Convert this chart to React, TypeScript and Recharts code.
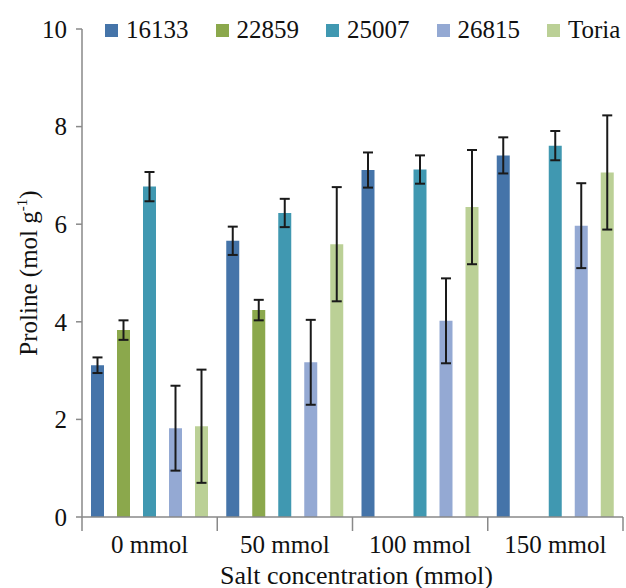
import { BarChart, Bar, XAxis, YAxis, ErrorBar, Legend } from "recharts";

const categories = ["0 mmol", "50 mmol", "100 mmol", "150 mmol"];

const seriesNames = ["16133", "22859", "25007", "26815", "Toria"];
const seriesColors = ["#4574a9", "#8ba84c", "#4098b1", "#94a9d3", "#bbd096"];

const values16133 = [3.11, 5.66, 7.11, 7.41];
const values22859 = [3.83, 4.24, 0, 0];
const values25007 = [6.77, 6.23, 7.12, 7.61];
const values26815 = [1.82, 3.17, 4.02, 5.97];
const valuesToria = [1.86, 5.59, 6.35, 7.06];

const err16133 = [0.16, 0.29, 0.36, 0.37];
const err22859 = [0.2, 0.21, 0, 0];
const err25007 = [0.3, 0.29, 0.29, 0.3];
const err26815 = [0.87, 0.87, 0.87, 0.87];
const errToria = [1.16, 1.17, 1.17, 1.17];

const yTicks = [0, 2, 4, 6, 8, 10];

const allValues = [values16133, values22859, values25007, values26815, valuesToria];
const allErrors = [err16133, err22859, err25007, err26815, errToria];

const data = categories.map((name, i) => {
  const row: any = { name };
  seriesNames.forEach((s, k) => {
    row[s] = allValues[k][i];
    row[s + "_err"] = allErrors[k][i];
  });
  return row;
});

const FONT = "Liberation Serif";
const AXIS = "#898989";

function CategoryTick(props: any) {
  const { x, y, payload, index, visibleTicksCount } = props;
  const half = payload.offset || 0;
  const last = index === visibleTicksCount - 1;
  return (
    <g>
      <line x1={x - half} y1={y} x2={x - half} y2={y + 14} stroke={AXIS} strokeWidth={1.5} />
      {last && (
        <line x1={x + half} y1={y} x2={x + half} y2={y + 14} stroke={AXIS} strokeWidth={1.5} />
      )}
      <text x={x} y={y + 36} textAnchor="middle" fontSize={25} fontFamily={FONT} fill="#111">
        {payload.value}
      </text>
    </g>
  );
}

function XTitle(props: any) {
  const { viewBox } = props;
  return (
    <text
      x={viewBox.x + viewBox.width / 2 + 4}
      y={viewBox.y + viewBox.height - 4}
      textAnchor="middle"
      fontSize={26}
      fontFamily={FONT}
      fill="#111"
    >
      Salt concentration (mmol)
    </text>
  );
}

function YTitle(props: any) {
  const { viewBox } = props;
  const cx = viewBox.x + 5;
  const cy = viewBox.y + viewBox.height / 2;
  return (
    <text
      x={cx}
      y={cy}
      transform={`rotate(-90, ${cx}, ${cy})`}
      textAnchor="middle"
      fontSize={25}
      fontFamily={FONT}
      fill="#111"
    >
      Proline (mol g
      <tspan fontSize={15} dy={-10}>-1</tspan>
      <tspan dy={10}>)</tspan>
    </text>
  );
}

function LegendBox(props: any) {
  const { payload } = props;
  return (
    <div style={{ display: "flex", alignItems: "center", height: 30 }}>
      {(payload || []).map((p: any) => (
        <div
          key={p.value}
          style={{ display: "flex", alignItems: "center", marginRight: 27 }}
        >
          <span
            style={{
              width: 13,
              height: 13,
              background: p.color,
              display: "inline-block",
              marginRight: 8,
            }}
          />
          <span style={{ fontFamily: FONT, fontSize: 25, color: "#111", lineHeight: "30px" }}>
            {p.value}
          </span>
        </div>
      ))}
    </div>
  );
}

export default function App() {
  return (
    <div style={{ position: "absolute", left: 0, top: 0, background: "#fff" }}>
      <BarChart
        width={626}
        height={588}
        data={data}
        margin={{ top: 29, right: 3, left: 32, bottom: 0 }}
        barSize={13}
        barGap={13}
      >
        <XAxis
          dataKey="name"
          height={71}
          tickLine={false}
          tickSize={0}
          tickMargin={0}
          axisLine={{ stroke: AXIS, strokeWidth: 1.5 }}
          tick={<CategoryTick />}
          interval={0}
          label={<XTitle />}
        />
        <YAxis
          width={50}
          domain={[0, 10]}
          ticks={yTicks}
          tickSize={6}
          tickMargin={9}
          tickLine={{ stroke: AXIS, strokeWidth: 1.5 }}
          axisLine={{ stroke: AXIS, strokeWidth: 1.5 }}
          tick={{ fontSize: 25, fontFamily: FONT, fill: "#111" }}
          label={<YTitle />}
        />
        <Legend
          verticalAlign="middle"
          align="center"
          layout="horizontal"
          wrapperStyle={{ top: 15, left: 105, width: 530 }}
          content={<LegendBox />}
        />
        {seriesNames.map((s, k) => (
          <Bar key={s} dataKey={s} name={s} fill={seriesColors[k]} isAnimationActive={false}>
            <ErrorBar
              dataKey={s + "_err"}
              width={5}
              stroke="#1a1a1a"
              strokeWidth={2}
              direction="y"
            />
          </Bar>
        ))}
      </BarChart>
    </div>
  );
}
